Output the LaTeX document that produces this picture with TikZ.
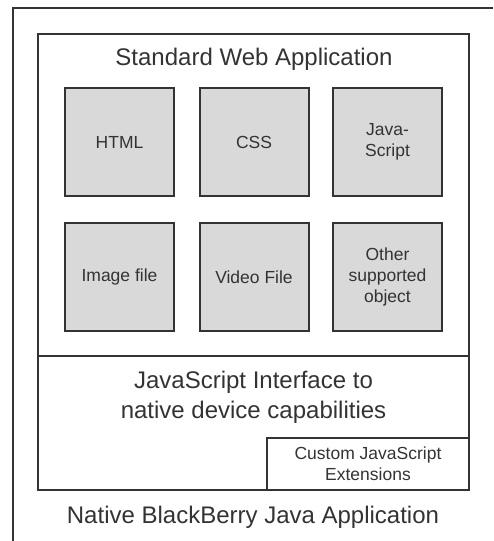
\documentclass[tikz,border=0pt]{standalone}
\usepackage{fontspec}
\setmainfont{Liberation Sans}
\definecolor{boxgray}{HTML}{D9D9D9}
\definecolor{linegray}{HTML}{333333}
\newcommand{\filebox}[4]{\node[item] (#1) at (#2,#3) {#4};}

\begin{document}
\begin{tikzpicture}
                [x=1pt,y=-1pt,
                frame/.style={rectangle,draw=linegray,line width=2pt,inner sep=0pt},
                item/.style={frame,fill=boxgray,minimum width=109pt,minimum height=108pt,align=center,font=\fontsize{17.5}{21}\selectfont,text=linegray},
                bigtext/.style={align=center,font=\fontsize{24}{30}\selectfont,text=linegray},
                ]
                \useasboundingbox (0,0) rectangle (493,541);
                \draw[draw=linegray,line width=2pt] (13,541) -- (13,8) -- (493,8);
                \node[frame,minimum width=431pt,minimum height=322pt] (web) at (253.5,195) {};
                \node[frame,minimum width=431pt,minimum height=134pt] (iface) at (253.5,423) {};
                \node[frame,minimum width=202pt,minimum height=52pt,align=center,font=\fontsize{17.5}{21}\selectfont,text=linegray] (custom) at (368,464) {Custom JavaScript\\Extensions};
                \node[bigtext] (webtitle) at (254,59) {Standard Web Application};
                \filebox{html}{119.5}{142}{HTML}	\filebox{css}{254}{142}{CSS}	\filebox{js}{387.5}{142}{Java-\\Script}
                \filebox{image}{119.5}{277}{Image file}	\filebox{video}{254}{277}{Video File}	\filebox{other}{387.5}{277}{Other\\supported\\object}
                \node[bigtext] (ifacetext) at (253.5,397) {JavaScript Interface to\\native device capabilities};
                \node[bigtext] (native) at (253,517) {Native BlackBerry Java Application};
            \end{tikzpicture}
\end{document}
